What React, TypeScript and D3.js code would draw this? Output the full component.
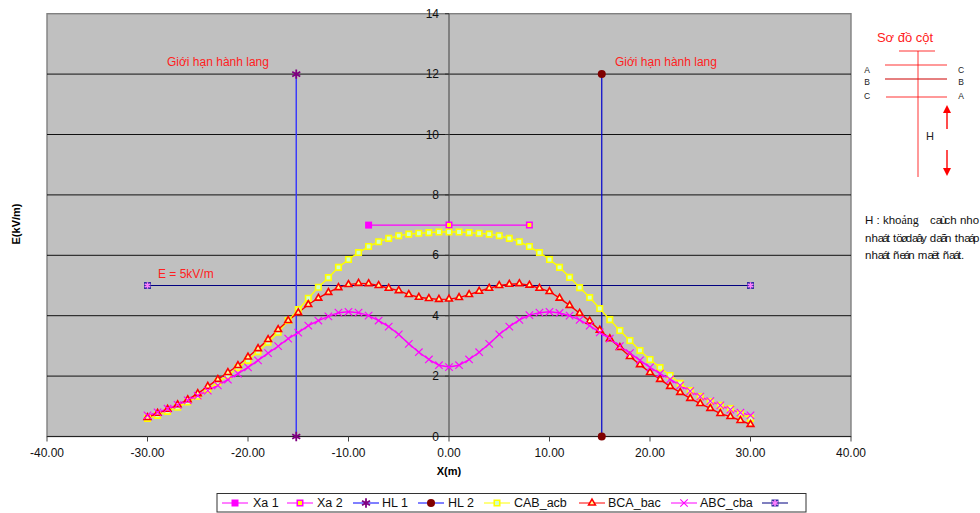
import * as d3 from "d3";
import React from "react";

const xTicks = [-40, -30, -20, -10, 0, 10, 20, 30, 40];
const yTicks = [0, 2, 4, 6, 8, 10, 12, 14];

const xs = d3.range(-30, 31);
const cab = [
  0.6, 0.7, 0.83, 0.97, 1.14, 1.33, 1.55, 1.8, 2.02, 2.28, 2.52, 2.81, 3.12, 3.45, 3.84, 4.2, 4.58, 4.94, 5.26, 5.6, 5.86,
  6.09, 6.29, 6.45, 6.56, 6.65, 6.7, 6.73, 6.75, 6.77, 6.77, 6.77, 6.75, 6.73, 6.7, 6.65, 6.56, 6.45, 6.29, 6.09, 5.86,
  5.6, 5.27, 4.93, 4.6, 4.24, 3.87, 3.51, 3.18, 2.85, 2.55, 2.28, 2.02, 1.76, 1.52, 1.32, 1.16, 1.03, 0.93, 0.76, 0.6,
];
const bca = [
  0.63, 0.77, 0.9, 1.05, 1.22, 1.42, 1.66, 1.89, 2.12, 2.35, 2.63, 2.91, 3.21, 3.54, 3.84, 4.1, 4.37, 4.58, 4.77, 4.93, 5.03,
  5.07, 5.06, 5.0, 4.91, 4.83, 4.7, 4.61, 4.57, 4.54, 4.55, 4.6, 4.7, 4.81, 4.91, 5.0, 5.04, 5.06, 5.01, 4.91, 4.8,
  4.58, 4.34, 4.08, 3.82, 3.52, 3.24, 2.95, 2.65, 2.38, 2.12, 1.89, 1.66, 1.46, 1.26, 1.09, 0.93, 0.76, 0.66, 0.53, 0.4,
];
const abc = [
  0.7, 0.8, 0.92, 1.05, 1.2, 1.35, 1.52, 1.69, 1.88, 2.08, 2.29, 2.52, 2.76, 2.99, 3.24, 3.44, 3.67, 3.84, 3.98, 4.1, 4.13,
  4.1, 4.0, 3.84, 3.64, 3.38, 3.07, 2.79, 2.55, 2.36, 2.3, 2.36, 2.55, 2.79, 3.07, 3.38, 3.64, 3.86, 4.02, 4.1, 4.13,
  4.09, 4.0, 3.86, 3.67, 3.45, 3.24, 2.99, 2.76, 2.52, 2.29, 2.08, 1.89, 1.69, 1.5, 1.32, 1.17, 1.03, 0.89, 0.79, 0.7,
];
const xa1 = [[-8, 7], [0, 7]];
const xa2 = [[0, 7], [8, 7]];
const hl1 = [[-15.2, 0], [-15.2, 12]];
const hl2 = [[15.2, 0], [15.2, 12]];
const limit = [[-30, 5], [30, 5]];

const legendItems = [
  { name: "Xa 1", mx: 235, tx: 253, kind: "xa1" },
  { name: "Xa 2", mx: 300, tx: 317, kind: "xa2" },
  { name: "HL 1", mx: 366, tx: 382, kind: "hl1" },
  { name: "HL 2", mx: 431, tx: 448, kind: "hl2" },
  { name: "CAB_acb", mx: 497, tx: 514, kind: "cab" },
  { name: "BCA_bac", mx: 592, tx: 608, kind: "bca" },
  { name: "ABC_cba", mx: 684, tx: 700, kind: "abc" },
  { name: "", mx: 775, tx: 0, kind: "limit" },
];

const x = d3.scaleLinear().domain([-40, 40]).range([47, 851]);
const y = d3.scaleLinear().domain([0, 14]).range([436.5, 13.7]);
const line = d3.line<number[]>().x((d) => x(d[0])).y((d) => y(d[1]));
const FONT = "Liberation Sans, Arial, sans-serif";

const sym = (type: any, size: number) => d3.symbol().type(type).size(size)() as string;

// marker drawn at px,py for one series kind
const Marker = ({ kind, px, py }: { kind: string; px: number; py: number }) => {
  const t = `translate(${px},${py})`;
  if (kind === "xa1") return <path transform={t} d={sym(d3.symbolSquare, 49)} fill="#ff00ff" />;
  if (kind === "xa2") return <path transform={t} d={sym(d3.symbolSquare, 30)} fill="#ffff00" stroke="#ff00ff" strokeWidth={1.5} />;
  if (kind === "hl1") return <path transform={t} d={sym(d3.symbolAsterisk, 60)} fill="none" stroke="#800080" strokeWidth={1.8} />;
  if (kind === "hl2") return <circle transform={t} r={4} fill="#800000" />;
  if (kind === "cab") return <path transform={t} d={sym(d3.symbolSquare, 30)} fill="#ccffcc" stroke="#ffff00" strokeWidth={1.6} />;
  if (kind === "bca") return <path transform={t} d={sym(d3.symbolTriangle, 20)} fill="#ffff99" stroke="#ff0000" strokeWidth={1.6} />;
  if (kind === "abc") return <path transform={t} d={sym(d3.symbolTimes, 38)} fill="none" stroke="#ff00ff" strokeWidth={1.1} />;
  return (
    <g transform={t}>
      <path d={sym(d3.symbolSquare, 49)} fill="#3030a0" />
      <path d={sym(d3.symbolAsterisk, 30)} fill="none" stroke="#ff80ff" strokeWidth={1.6} />
    </g>
  );
};

const legendColor: Record<string, string> = {
  xa1: "#ff00ff", xa2: "#ff00ff", hl1: "#0000ff", hl2: "#0000ff",
  cab: "#ffff00", bca: "#ff0000", abc: "#ff00ff", limit: "#000080",
};

const zip = (vals: number[]) => xs.map((d, i) => [d, vals[i]]);

// the source note is in a broken font: accented glyphs have no advance, so they pile onto the next letter
const squeeze = (s: string) =>
  Array.from(s)
    .map((c, i, all) => {
      if ("áãâøùë".includes(c)) return -2;
      if (i > 0 && "áãâøùë".includes(all[i - 1])) return -2;
      return 0;
    })
    .join(" ");

const note1 = "caùch nho";
const note2 = "nhaát töødaây daãn thaáp";
const note3 = "nhaát ñeán maët ñaát.";

export default function App() {
  return (
    <svg width={980} height={513} style={{ position: "absolute", left: 0, top: 0 }} fontFamily={FONT}>
      <rect x={47} y={13.7} width={804} height={422.8} fill="#c0c0c0" stroke="#808080" strokeWidth={1.4} />

      {yTicks.slice(1, -1).map((t) => (
        <line key={t} x1={47} x2={851} y1={y(t)} y2={y(t)} stroke="#111" strokeWidth={1} />
      ))}

      {/* axes */}
      <line x1={47} x2={851} y1={y(0)} y2={y(0)} stroke="#222" />
      <line x1={x(0)} x2={x(0)} y1={y(14)} y2={y(0)} stroke="#555" strokeWidth={1.2} />
      {xTicks.map((t) => (
        <g key={t}>
          <line x1={x(t)} x2={x(t)} y1={y(0)} y2={y(0) + 5} stroke="#444" />
          <text x={x(t)} y={457} textAnchor="middle" fontSize={12} fill="#111">{t.toFixed(2)}</text>
        </g>
      ))}
      {yTicks.map((t) => (
        <g key={t}>
          <line x1={x(0) - 4} x2={x(0)} y1={y(t)} y2={y(t)} stroke="#333" />
          <text x={439} y={y(t) + 4} textAnchor="end" fontSize={12} fill="#111">{t}</text>
        </g>
      ))}
      <text x={449} y={475} textAnchor="middle" fontSize={11} fontWeight="bold">X(m)</text>
      <text transform="translate(20,224) rotate(-90)" textAnchor="middle" fontSize={11} fontWeight="bold">E(kV/m)</text>

      {/* corridor limits and reference line */}
      <path d={line(limit)!} fill="none" stroke="#000080" strokeWidth={1} />
      <path d={line(hl1)!} fill="none" stroke="#3333ff" strokeWidth={1.4} />
      <path d={line(hl2)!} fill="none" stroke="#0000cc" strokeWidth={1.2} />
      <path d={line(xa1)!} fill="none" stroke="#ff00ff" strokeWidth={1.2} />
      <path d={line(xa2)!} fill="none" stroke="#ff00ff" strokeWidth={1.2} />

      <path d={line(zip(cab))!} fill="none" stroke="#ffff00" strokeWidth={1.4} />
      <path d={line(zip(bca))!} fill="none" stroke="#ff0000" strokeWidth={1.4} />
      <path d={line(zip(abc))!} fill="none" stroke="#ff00ff" strokeWidth={1.4} />

      {hl1.map((d, i) => <Marker key={i} kind="hl1" px={x(d[0])} py={y(d[1])} />)}
      {hl2.map((d, i) => <Marker key={i} kind="hl2" px={x(d[0])} py={y(d[1])} />)}
      <Marker kind="xa1" px={x(xa1[0][0])} py={y(xa1[0][1])} />
      {xa2.map((d, i) => <Marker key={i} kind="xa2" px={x(d[0])} py={y(d[1])} />)}
      {limit.map((d, i) => <Marker key={i} kind="limit" px={x(d[0])} py={y(d[1])} />)}
      {zip(cab).map((d, i) => <Marker key={i} kind="cab" px={x(d[0])} py={y(d[1])} />)}
      {zip(bca).map((d, i) => <Marker key={i} kind="bca" px={x(d[0])} py={y(d[1])} />)}
      {zip(abc).map((d, i) => <Marker key={i} kind="abc" px={x(d[0])} py={y(d[1])} />)}

      {/* annotations */}
      <text x={167} y={66} fontSize={12} fill="#ff2020">Giới hạn hành lang</text>
      <text x={615} y={66} fontSize={12} fill="#ff2020">Giới hạn hành lang</text>
      <text x={158} y={278} fontSize={12} fill="#ff2020">E = 5kV/m</text>

      {/* tower sketch */}
      <text x={905} y={42} textAnchor="middle" fontSize={13} fill="#ff2020">Sơ đồ cột</text>
      <g stroke="#ff0000" strokeWidth={1}>
        <line x1={899} x2={935} y1={51} y2={51} strokeOpacity={0.8} />
        <line x1={885} x2={947} y1={65} y2={65} strokeOpacity={0.8} />
        <line x1={885} x2={947} y1={79} y2={79} stroke="#cc0000" />
        <line x1={886} x2={947} y1={97} y2={97} strokeOpacity={0.8} />
        <line x1={918} x2={918} y1={51} y2={177} strokeOpacity={0.8} />
        <line x1={947} x2={947} y1={112} y2={129} strokeWidth={1.4} />
        <line x1={947} x2={947} y1={150} y2={170} strokeWidth={1.4} />
      </g>
      <path d="M947,105 L943,113 L951,113 Z" fill="#ff0000" />
      <path d="M947,176 L943,168 L951,168 Z" fill="#ff0000" />
      <g fontSize={8.5} fill="#222" textAnchor="middle">
        <text x={867} y={73}>A</text>
        <text x={867} y={85}>B</text>
        <text x={867} y={99}>C</text>
        <text x={961} y={73}>C</text>
        <text x={961} y={85}>B</text>
        <text x={961} y={99}>A</text>
      </g>
      <text x={930} y={140} textAnchor="middle" fontSize={11} fill="#222">H</text>

      <g fontSize={11.5} fill="#111">
        <text x={865} y={224}>
          H : kho<tspan fontFamily="Liberation Serif, serif" fontSize={12}>ảng</tspan>
        </text>
        <text x={930} y={224} dx={squeeze(note1)}>{note1}</text>
        <text x={865} y={242} dx={squeeze(note2)}>{note2}</text>
        <text x={865} y={259} dx={squeeze(note3)}>{note3}</text>
      </g>

      {/* legend */}
      <rect x={217} y={493.5} width={589} height={18.5} fill="#fff" stroke="#333" />
      {legendItems.map((d) => (
        <g key={d.kind}>
          <line x1={d.mx - 13} x2={d.mx + 13} y1={503} y2={503} stroke={legendColor[d.kind]} />
          <Marker kind={d.kind} px={d.mx} py={503} />
          {d.name && <text x={d.tx} y={507} fontSize={12.5} fill="#111">{d.name}</text>}
        </g>
      ))}
    </svg>
  );
}
